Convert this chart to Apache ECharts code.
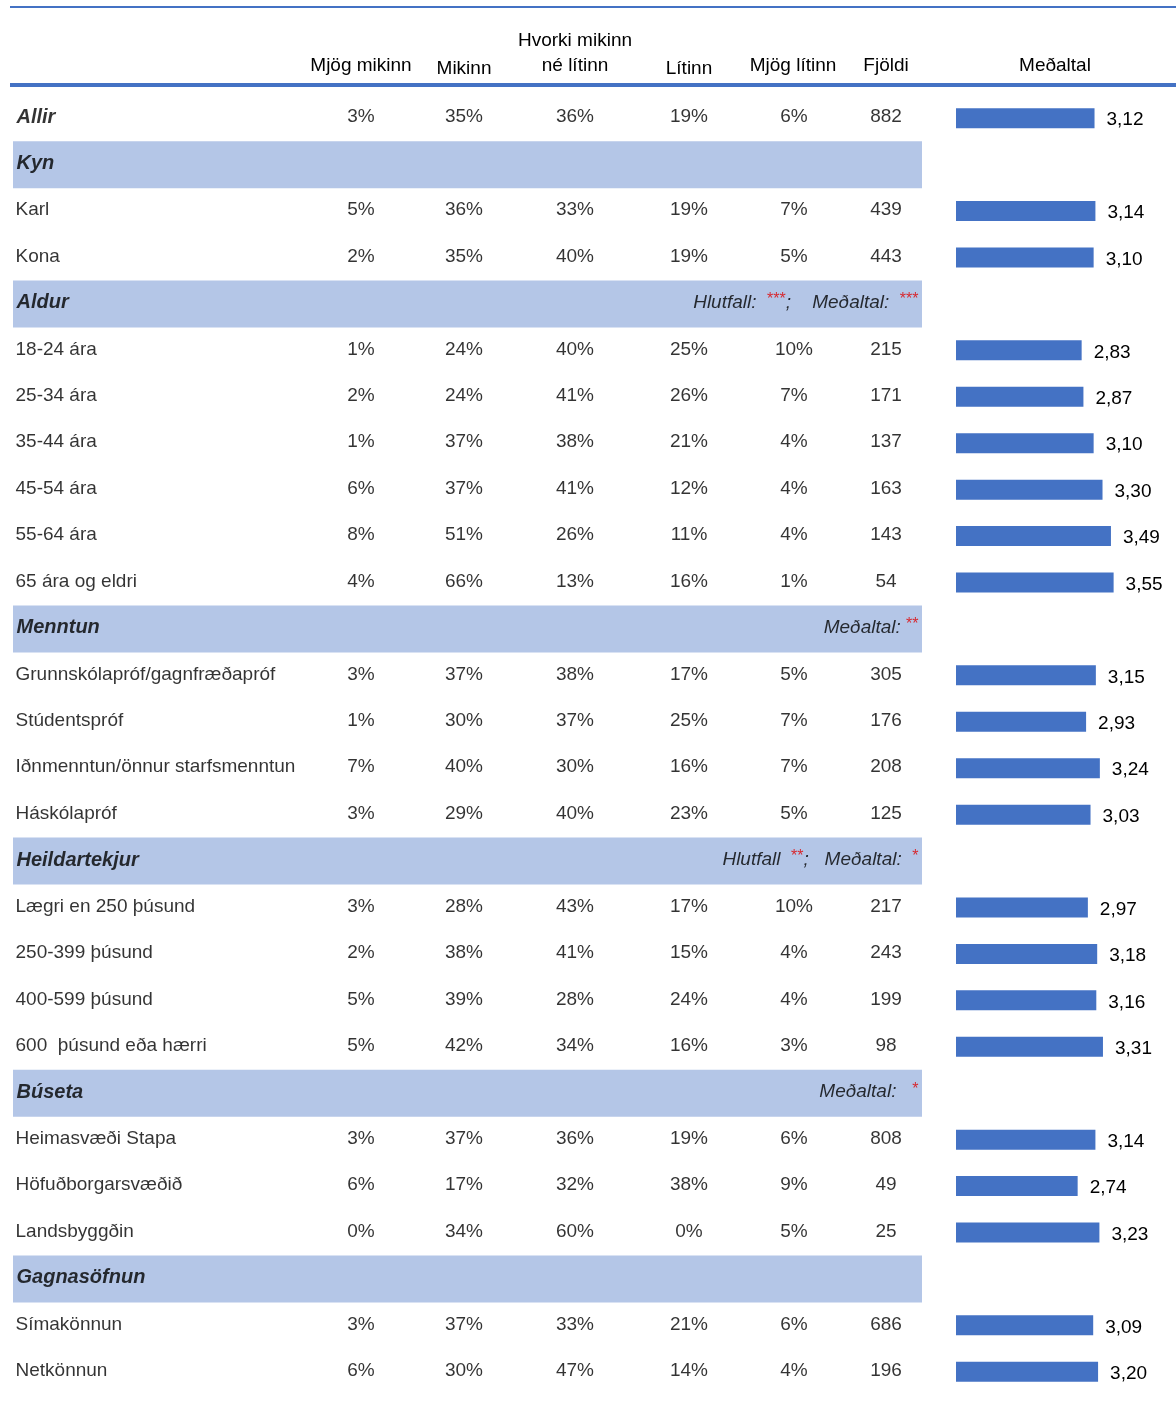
<!DOCTYPE html>
<html>
<head>
<meta charset="utf-8">
<script src="https://cdn.jsdelivr.net/npm/echarts@6/dist/echarts.min.js"></script>
<style>
  html, body { margin: 0; padding: 0; background: #fff; }
  #main { width: 1176px; height: 1405px; }
</style>
</head>
<body>
<div id="main"></div>
<script>
// raðir töflunnar
var rowLabels = ['Allir', 'Kyn', 'Karl', 'Kona', 'Aldur', '18-24 ára', '25-34 ára', '35-44 ára', '45-54 ára',
  '55-64 ára', '65 ára og eldri', 'Menntun', 'Grunnskólapróf/gagnfræðapróf', 'Stúdentspróf',
  'Iðnmenntun/önnur starfsmenntun', 'Háskólapróf', 'Heildartekjur', 'Lægri en 250 þúsund', '250-399 þúsund',
  '400-599 þúsund', '600  þúsund eða hærri', 'Búseta', 'Heimasvæði Stapa', 'Höfuðborgarsvæðið', 'Landsbyggðin',
  'Gagnasöfnun', 'Símakönnun', 'Netkönnun'];
// 'total' = Allir, 'group' = fyrirsögn með lit, 'row' = venjuleg röð
var rowTypes = ['total', 'group', 'row', 'row', 'group', 'row', 'row', 'row', 'row', 'row', 'row', 'group',
  'row', 'row', 'row', 'row', 'group', 'row', 'row', 'row', 'row', 'group', 'row', 'row', 'row', 'group', 'row', 'row'];

var headers = ['Mjög mikinn', 'Mikinn', 'Hvorki mikinn\nné lítinn', 'Lítinn', 'Mjög lítinn', 'Fjöldi'];

var mjogMikinn = [3, null, 5, 2, null, 1, 2, 1, 6, 8, 4, null, 3, 1, 7, 3, null, 3, 2, 5, 5, null, 3, 6, 0, null, 3, 6];
var mikinn = [35, null, 36, 35, null, 24, 24, 37, 37, 51, 66, null, 37, 30, 40, 29, null, 28, 38, 39, 42, null, 37, 17, 34, null, 37, 30];
var hvorki = [36, null, 33, 40, null, 40, 41, 38, 41, 26, 13, null, 38, 37, 30, 40, null, 43, 41, 28, 34, null, 36, 32, 60, null, 33, 47];
var litinn = [19, null, 19, 19, null, 25, 26, 21, 12, 11, 16, null, 17, 25, 16, 23, null, 17, 15, 24, 16, null, 19, 38, 0, null, 21, 14];
var mjogLitinn = [6, null, 7, 5, null, 10, 7, 4, 4, 4, 1, null, 5, 7, 7, 5, null, 10, 4, 4, 3, null, 6, 9, 5, null, 6, 4];
var fjoldi = [882, null, 439, 443, null, 215, 171, 137, 163, 143, 54, null, 305, 176, 208, 125, null, 217, 243, 199, 98, null, 808, 49, 25, null, 686, 196];
var medaltal = [3.12, null, 3.14, 3.10, null, 2.83, 2.87, 3.10, 3.30, 3.49, 3.55, null, 3.15, 2.93, 3.24, 3.03, null,
  2.97, 3.18, 3.16, 3.31, null, 3.14, 2.74, 3.23, null, 3.09, 3.20];

// marktækni (texti, stjörnur)
var sigNotes = [
  { row: 4, parts: [['Hlutfall:  ', '***'], [';    Meðaltal:  ', '***']] },
  { row: 11, parts: [['Meðaltal: ', '**']] },
  { row: 16, parts: [['Hlutfall  ', '**'], [';   Meðaltal:  ', '*']] },
  { row: 21, parts: [['Meðaltal:   ', '*']] }
];

var FONT = "'Liberation Sans', Arial, sans-serif";
var BLUE = '#4472C4';
var BAND = '#B4C6E7';
var colX = [361, 464, 575, 689, 794, 886];
var top0 = 95, gridH = 1300;

var myChart = echarts.init(document.getElementById('main'));

var rowIdx = rowLabels.map(function (d, i) { return i; });

function cellSeries(values, x, suffix) {
  var data = [];
  values.forEach(function (v, i) {
    if (v !== null) data.push([x, i, v]);
  });
  return {
    type: 'scatter', xAxisIndex: 0, yAxisIndex: 0, symbolSize: 1, silent: true,
    itemStyle: { color: 'rgba(0,0,0,0)' },
    label: {
      show: true, position: 'inside', color: '#000', fontFamily: FONT, fontSize: 19, offset: [0, -1],
      formatter: function (p) { return p.value[2] + suffix; }
    },
    data: data
  };
}

var series = [];

// litaðar línur fyrir flokka
series.push({
  type: 'bar', xAxisIndex: 0, yAxisIndex: 0, stack: 'band', barWidth: 47, silent: true,
  itemStyle: { color: 'rgba(0,0,0,0)' },
  data: rowTypes.map(function (t) { return t === 'group' ? 13 : null; })
});
series.push({
  type: 'bar', xAxisIndex: 0, yAxisIndex: 0, stack: 'band', barWidth: 47, silent: true,
  itemStyle: { color: BAND },
  data: rowTypes.map(function (t) { return t === 'group' ? 909 : null; })
});

// heiti raða
series.push({
  type: 'scatter', xAxisIndex: 0, yAxisIndex: 0, symbolSize: 1, silent: true,
  itemStyle: { color: 'rgba(0,0,0,0)' },
  label: {
    show: true, position: 'right', distance: 0, fontFamily: FONT, fontSize: 19, color: '#000', offset: [0, -1],
    formatter: function (p) { return rowTypes[p.value[1]] === 'row' ? p.value[2] : '{b|' + p.value[2] + '}'; },
    rich: { b: { fontFamily: FONT, fontSize: 20, fontWeight: 'bold', fontStyle: 'italic', color: '#000' } }
  },
  data: rowLabels.map(function (l, i) { return [rowTypes[i] === 'row' ? 15 : 16, i, l]; })
});

// talnadálkar
series.push(cellSeries(mjogMikinn, colX[0], '%'));
series.push(cellSeries(mikinn, colX[1], '%'));
series.push(cellSeries(hvorki, colX[2], '%'));
series.push(cellSeries(litinn, colX[3], '%'));
series.push(cellSeries(mjogLitinn, colX[4], '%'));
series.push(cellSeries(fjoldi, colX[5], ''));

// marktækni texti
series.push({
  type: 'scatter', xAxisIndex: 0, yAxisIndex: 0, symbolSize: 1, silent: true,
  itemStyle: { color: 'rgba(0,0,0,0)' },
  label: {
    show: true, position: 'left', distance: 0, offset: [0, -1],
    formatter: function (p) {
      var n = sigNotes[p.dataIndex];
      return n.parts.map(function (pt) { return '{t|' + pt[0] + '}{s|' + pt[1] + '}'; }).join('');
    },
    rich: {
      t: { fontFamily: FONT, fontSize: 19, fontStyle: 'italic', color: '#000', lineHeight: 22 },
      s: { fontFamily: FONT, fontSize: 16, color: '#e00000', verticalAlign: 'top', lineHeight: 22, padding: [0, 0, 6, 0] }
    }
  },
  data: sigNotes.map(function (n) { return [919, n.row]; })
});

// meðaltal súlur
series.push({
  type: 'bar', xAxisIndex: 1, yAxisIndex: 1, barWidth: 20, silent: true,
  itemStyle: { color: BLUE },
  label: {
    show: true, position: 'right', distance: 12, fontFamily: FONT, fontSize: 19, color: '#000', offset: [0, 2],
    formatter: function (p) { return p.value.toFixed(2).replace('.', ','); }
  },
  data: medaltal
});

var headerStyle = { fontFamily: FONT, fontSize: 19, fill: '#000', textAlign: 'center', textVerticalAlign: 'middle' };
var graphics = [
  { type: 'line', shape: { x1: 10, y1: 7, x2: 1176, y2: 7 }, style: { stroke: BLUE, lineWidth: 2 } },
  { type: 'line', shape: { x1: 10, y1: 85, x2: 1176, y2: 85 }, style: { stroke: BLUE, lineWidth: 4 } },
  { type: 'text', x: 361, y: 66, style: Object.assign({ text: headers[0] }, headerStyle) },
  { type: 'text', x: 464, y: 69, style: Object.assign({ text: headers[1] }, headerStyle) },
  { type: 'text', x: 575, y: 41, style: Object.assign({ text: headers[2].split('\n')[0] }, headerStyle) },
  { type: 'text', x: 575, y: 66, style: Object.assign({ text: headers[2].split('\n')[1] }, headerStyle) },
  { type: 'text', x: 689, y: 69, style: Object.assign({ text: headers[3] }, headerStyle) },
  { type: 'text', x: 793, y: 66, style: Object.assign({ text: headers[4] }, headerStyle) },
  { type: 'text', x: 886, y: 66, style: Object.assign({ text: headers[5] }, headerStyle) },
  { type: 'text', x: 1055, y: 66, style: Object.assign({ text: 'Meðaltal' }, headerStyle) }
];

var option = {
  animation: false,
  backgroundColor: '#fff',
  grid: [
    { left: 0, width: 1176, top: top0, height: gridH },
    { left: 956, width: 177.6, top: top0, height: gridH }
  ],
  xAxis: [
    { type: 'value', gridIndex: 0, min: 0, max: 1176, show: false },
    { type: 'value', gridIndex: 1, min: 0, max: 4, show: false }
  ],
  yAxis: [
    { type: 'category', gridIndex: 0, data: rowIdx, inverse: true, show: false },
    { type: 'category', gridIndex: 1, data: rowIdx, inverse: true, show: false }
  ],
  graphic: graphics,
  series: series
};

myChart.setOption(option);
</script>
</body>
</html>
